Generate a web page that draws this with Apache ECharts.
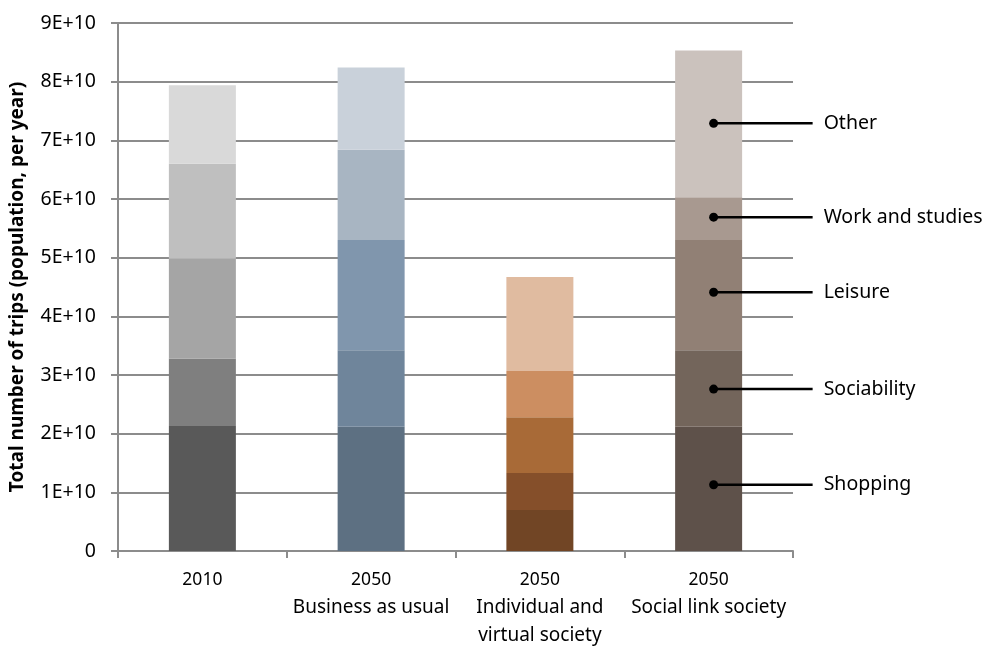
<!DOCTYPE html>
<html>
<head>
<meta charset="utf-8">
<script src="https://cdn.jsdelivr.net/npm/echarts@6/dist/echarts.min.js"></script>
<style>
  html, body { margin: 0; padding: 0; background: #fff; }
  #chart { width: 984px; height: 647px; }
</style>
</head>
<body>
<div id="chart"></div>
<script>
// Trips per year by purpose, in units of 1E+10
const scenarios = ['2010', '2050\nBusiness as usual', '2050\nIndividual and\nvirtual society', '2050\nSocial link society'];
const purposes = ['Shopping', 'Sociability', 'Leisure', 'Work and studies', 'Other'];

const shopping    = [2.13, 2.12, 0.70, 2.12];
const sociability = [1.15, 1.30, 0.63, 1.30];
const leisure     = [1.70, 1.88, 0.95, 1.88];
const work        = [1.62, 1.54, 0.79, 0.73];
const other       = [1.34, 1.40, 1.60, 2.50];

const yTicks = [0, 1, 2, 3, 4, 5, 6, 7, 8, 9];

// Where each purpose callout points on the last column (same units)
const calloutAt = [1.13, 2.76, 4.41, 5.69, 7.29];

// Shades per scenario, from bottom (shopping) to top (other)
const palettes = [
  ['#595959', '#7f7f7f', '#a5a5a5', '#bfbfbf', '#d9d9d9'],
  ['#5d7082', '#6f859b', '#8096ad', '#a8b5c2', '#c9d1da'],
  ['#714525', '#854f2a', '#a86a37', '#cc8e61', '#e0bba0'],
  ['#5e514a', '#73655b', '#918075', '#a89990', '#cbc2bd']
];

const seriesValues = [shopping, sociability, leisure, work, other];
const FONT = 'Noto Sans';

const barSeries = purposes.map((name, p) => ({
  name: name,
  type: 'bar',
  stack: 'trips',
  barWidth: 67,
  z: 3,
  data: seriesValues[p].map((v, c) => ({ value: v, itemStyle: { color: palettes[c][p] } }))
}));

const calloutSeries = {
  type: 'custom',
  z: 10,
  silent: true,
  data: purposes.map((name, p) => [3, calloutAt[p], name]),
  renderItem: function (params, api) {
    const pt = api.coord([api.value(0), api.value(1)]);
    const x0 = pt[0] + 5;
    const y = pt[1];
    return {
      type: 'group',
      children: [
        { type: 'line', shape: { x1: x0, y1: y, x2: x0 + 99, y2: y }, style: { stroke: '#000', lineWidth: 2.5 } },
        { type: 'circle', shape: { cx: x0, cy: y, r: 4.5 }, style: { fill: '#000' } },
        { type: 'text', style: { text: purposes[params.dataIndex], x: x0 + 110, y: y, textVerticalAlign: 'middle', font: '19.5px "' + FONT + '"', fill: '#000' } }
      ]
    };
  }
};

// First line (year) and the scenario description use separate text styles
function categoryLabel(value) {
  const lines = value.split('\n');
  const head = '{yr|' + lines[0] + '}';
  const rest = lines.slice(1).map(s => '{desc|' + s + '}');
  return [head].concat(rest).join('\n');
}

const chart = echarts.init(document.getElementById('chart'), null, { renderer: 'canvas' });
chart.setOption({
  animation: false,
  backgroundColor: '#fff',
  textStyle: { fontFamily: FONT },
  grid: { left: 118, right: 191, top: 23, bottom: 96, containLabel: false, outerBoundsMode: 'none' },
  xAxis: {
    type: 'category',
    data: scenarios,
    axisLine: { lineStyle: { color: '#8c8c8c', width: 2 } },
    axisTick: { show: true, length: 7, lineStyle: { color: '#8c8c8c', width: 2 } },
    axisLabel: {
      interval: 0, color: '#000', fontFamily: FONT, margin: 15,
      formatter: categoryLabel,
      rich: {
        yr: { fontSize: 17.5, lineHeight: 28, fontFamily: FONT, color: '#000' },
        desc: { fontSize: 19, lineHeight: 28, fontFamily: FONT, color: '#000' }
      }
    }
  },
  yAxis: {
    type: 'value',
    min: yTicks[0],
    max: yTicks[yTicks.length - 1],
    interval: 1,
    name: 'Total number of trips (population, per year)',
    nameLocation: 'middle',
    nameGap: 91,
    nameRotate: 90,
    nameTextStyle: { color: '#000', fontSize: 19, fontWeight: 'bold', fontFamily: FONT },
    axisLine: { show: true, lineStyle: { color: '#8c8c8c', width: 2 } },
    axisTick: { show: true, length: 7, lineStyle: { color: '#8c8c8c', width: 2 } },
    splitLine: { show: true, lineStyle: { color: '#8c8c8c', width: 2 } },
    axisLabel: {
      color: '#000', fontSize: 19.5, fontFamily: FONT, margin: 22,
      formatter: v => (v === 0 ? '0' : v + 'E+10')
    }
  },
  series: barSeries.concat([calloutSeries])
});
</script>
</body>
</html>
